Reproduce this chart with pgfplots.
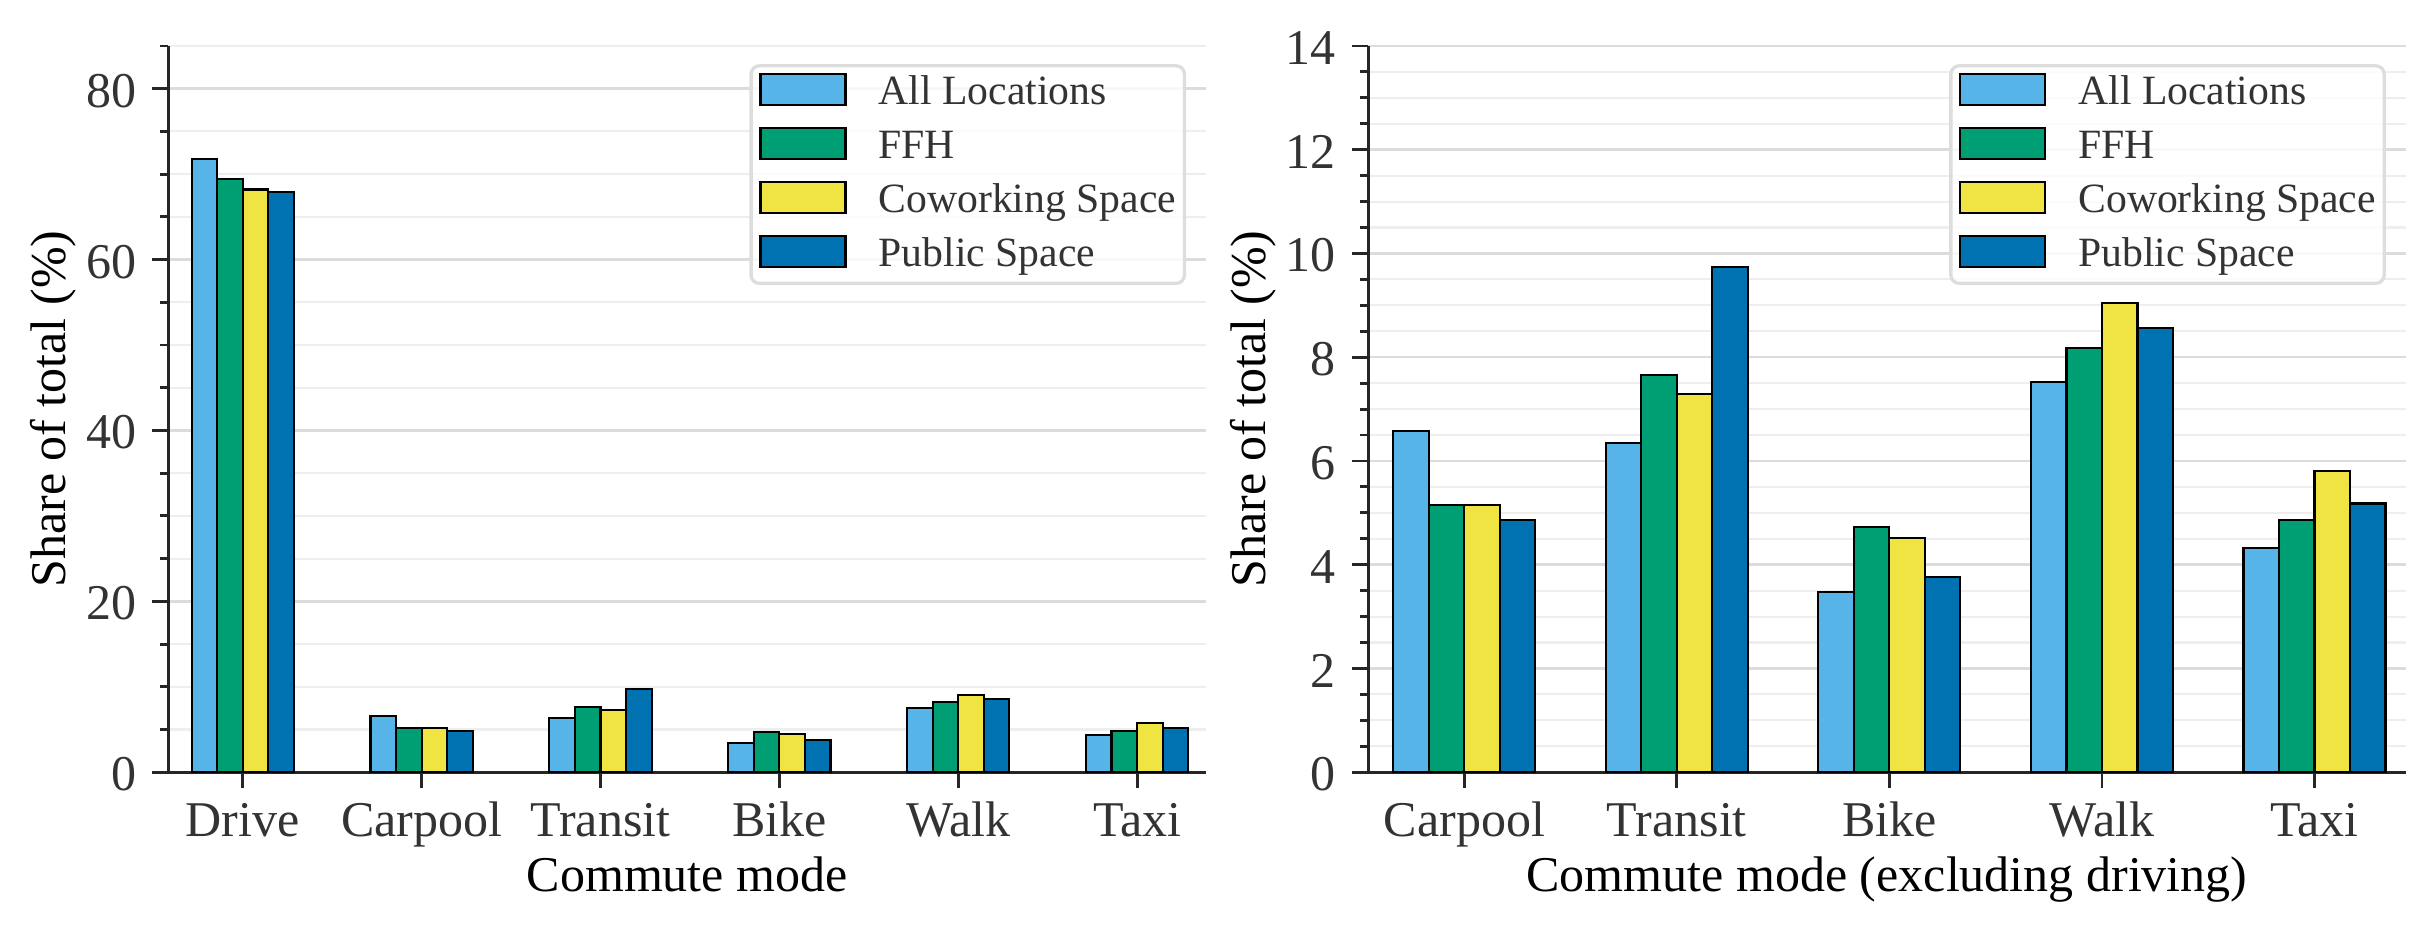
\documentclass[border=0pt]{standalone}
\usepackage{fontspec}
\setmainfont{Liberation Serif}
\usepackage{pgfplots}
\pgfplotsset{compat=1.18}

\definecolor{cAll}{HTML}{56B4E9}
\definecolor{cFFH}{HTML}{009E73}
\definecolor{cCow}{HTML}{F0E442}
\definecolor{cPub}{HTML}{0072B2}
\definecolor{ticktext}{HTML}{333333}
\definecolor{spine}{HTML}{262626}
\definecolor{gmaj}{HTML}{DCDCDC}
\definecolor{gmin}{HTML}{EEEEEE}
\definecolor{lframe}{HTML}{DDDDDD}

\pgfplotsset{
  mybar/.style={ybar, draw=black, line width=0.5pt,
    legend image code/.code={\path[##1, draw=black, line width=0.5pt, sharp corners, fill opacity=1, draw opacity=1] (0pt,0pt) rectangle (20.4pt,7.4pt);}},
  mystyle/.style={
    scale only axis, width=249pt, height=174.24pt,
    axis lines=left, axis line style={-, line width=0.7pt, spine},
    tick align=outside, tick style={line width=0.7pt, spine},
    major tick length=3.8pt, minor tick length=2pt,
    ymin=0, enlargelimits=false,
    ymajorgrids, yminorgrids,
    major grid style={gmaj, line width=0.6pt},
    minor grid style={gmin, line width=0.5pt},
    /pgf/number format/assume math mode=true,
    tick label style={font=\fontsize{12}{14}\selectfont, text=ticktext},
    yticklabel style={anchor=east, inner sep=0pt, xshift=-3.7pt, yshift=-0.5pt},
    xticklabel style={anchor=base, yshift=-11.7pt},
    label style={font=\fontsize{12}{14}\selectfont, text=black},
    xlabel style={at={(axis description cs:0.5,-0.1648)}, anchor=base},
    ylabel style={at={(axis description cs:-0.0988,0.5)}, anchor=base},
    legend style={at={(axis description cs:0.9807,0.975)}, anchor=north east,
      draw=lframe, line width=0.8pt, rounded corners=2pt,
      fill=white, fill opacity=0.8, text opacity=1,
      font=\fontsize{10}{12}\selectfont, text=ticktext,
      inner xsep=2pt, inner ysep=1.75pt, row sep=3.1pt,
      nodes={inner sep=0pt, text height=7.4pt, text depth=2.2pt},
      cells={anchor=base west},
      /tikz/every odd column/.append style={column sep=7.7pt}},
  }
}

\begin{document}
\begin{tikzpicture}
\path[use as bounding box] (0,0) rectangle (584pt,224.16pt);

\begin{axis}[mystyle, at={(40.39pt,38.88pt)}, anchor=south west,
  xmin=-0.416, xmax=5.386, ymax=85,
  xtick={0,1,2,3,4,5},
  xticklabels={Drive,Carpool,Transit,Bike,Walk,Taxi},
  ytick={0,20,40,60,80},
  minor ytick={5,10,15,25,30,35,45,50,55,65,70,75,85},
  xlabel={Commute mode}, ylabel={Share of total (\%)}]
\addplot[mybar, fill=cAll, bar width=0.143, bar shift=-0.2145] coordinates {(0,71.78) (1,6.57) (2,6.34) (3,3.47) (4,7.52) (5,4.32)};
\addplot[mybar, fill=cFFH, bar width=0.143, bar shift=-0.0715] coordinates {(0,69.43) (1,5.15) (2,7.66) (3,4.72) (4,8.17) (5,4.87)};
\addplot[mybar, fill=cCow, bar width=0.143, bar shift=0.0715] coordinates {(0,68.20) (1,5.15) (2,7.29) (3,4.51) (4,9.05) (5,5.80)};
\addplot[mybar, fill=cPub, bar width=0.143, bar shift=0.2145] coordinates {(0,67.90) (1,4.86) (2,9.74) (3,3.76) (4,8.56) (5,5.18)};
\legend{All Locations, FFH, Coworking Space, Public Space}
\end{axis}

\begin{axis}[mystyle, at={(328.25pt,38.88pt)}, anchor=south west,
  xmin=-0.453, xmax=4.43, ymax=14,
  xtick={0,1,2,3,4},
  xticklabels={Carpool,Transit,Bike,Walk,Taxi},
  ytick={0,2,4,6,8,10,12,14},
  minor ytick={0.5,1,1.5,2.5,3,3.5,4.5,5,5.5,6.5,7,7.5,8.5,9,9.5,10.5,11,11.5,12.5,13,13.5},
  xlabel={Commute mode (excluding driving)}, ylabel={Share of total (\%)}]
\addplot[mybar, fill=cAll, bar width=0.167, bar shift=-0.2505] coordinates {(0,6.57) (1,6.34) (2,3.47) (3,7.52) (4,4.32)};
\addplot[mybar, fill=cFFH, bar width=0.167, bar shift=-0.0835] coordinates {(0,5.15) (1,7.66) (2,4.72) (3,8.17) (4,4.87)};
\addplot[mybar, fill=cCow, bar width=0.167, bar shift=0.0835] coordinates {(0,5.15) (1,7.29) (2,4.51) (3,9.05) (4,5.80)};
\addplot[mybar, fill=cPub, bar width=0.167, bar shift=0.2505] coordinates {(0,4.86) (1,9.74) (2,3.76) (3,8.56) (4,5.18)};
\legend{All Locations, FFH, Coworking Space, Public Space}
\end{axis}
\end{tikzpicture}
\end{document}
